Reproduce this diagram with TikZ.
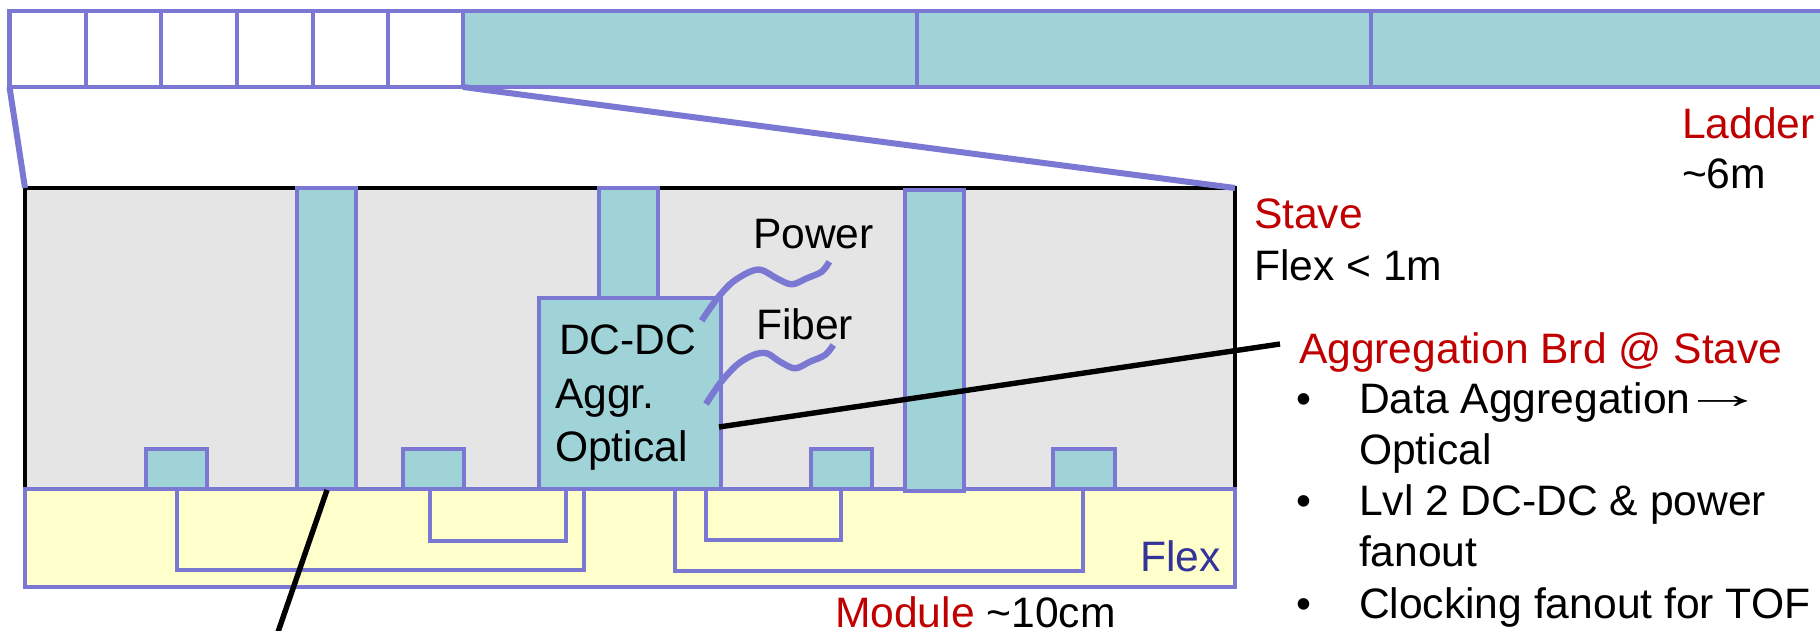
\documentclass[tikz,border=0pt]{standalone}
\usepackage{fontspec}
\setmainfont{Liberation Sans}
\definecolor{lav}{HTML}{7B78D4}
\definecolor{teal2}{HTML}{9FD3D8}
\definecolor{stavegray}{HTML}{E5E5E5}
\definecolor{flexy}{HTML}{FFFFCC}
\definecolor{redt}{HTML}{C00000}
\definecolor{flext}{HTML}{333399}
\tikzset{
  box/.style={draw=lav,line width=4.8pt,inner sep=0pt,outer sep=0pt,line join=miter},
  tealbox/.style={box,fill=teal2},
  whitebox/.style={box,fill=white},
  stavebox/.style={draw=black,line width=4.6pt,fill=stavegray,inner sep=0pt,outer sep=0pt},
  flexbox/.style={box,fill=flexy},
  trace/.style={draw=lav,line width=4.8pt,line join=miter},
  zoomline/.style={draw=lav,line width=6pt},
  squiggle/.style={draw=lav,line width=6.4pt,line join=round},
  leader/.style={draw=black,line width=5.4pt},
  lbl/.style={anchor=base west,inner sep=0pt,outer sep=0pt,font=\fontsize{42.6}{50}\selectfont},
  redl/.style={lbl,text=redt},
  blackl/.style={lbl,text=black},
}
\newcommand{\rbox}[6]{\node[#1,minimum width={(#5-#3)*1pt},minimum height={(#6-#4)*1pt}] (#2) at ({(#3+#5)/2},{(#4+#6)/2}) {};}
\begin{document}
\begin{tikzpicture}[x=1pt,y=-1pt]
\useasboundingbox (0,0) rectangle (1820,630);
\clip (0,0) rectangle (1820,630);
% ladder
\rbox{whitebox}{c1}{9.5}{11}{86}{87}
\rbox{whitebox}{c2}{86}{11}{161}{87}
\rbox{whitebox}{c3}{161}{11}{237}{87}
\rbox{whitebox}{c4}{237}{11}{313}{87}
\rbox{whitebox}{c5}{313}{11}{388}{87}
\rbox{whitebox}{c6}{388}{11}{463}{87}
\rbox{tealbox}{m1}{463}{11}{917}{87}
\rbox{tealbox}{m2}{917}{11}{1371}{87}
\rbox{tealbox}{m3}{1371}{11}{1830}{87}
% stave and flex
\rbox{stavebox}{stave}{25}{188}{1235}{489}
\rbox{flexbox}{flex}{25}{489}{1235}{587}
\draw[zoomline] (c1.south west) -- (stave.north west);
\draw[zoomline] (c6.south east) -- (stave.north east);
% modules
\rbox{tealbox}{col1}{297}{188}{356}{489}
\rbox{tealbox}{col2}{599}{188}{658}{298}
\rbox{tealbox}{col3}{905}{190}{964}{491}
\rbox{tealbox}{agg}{539}{298}{721}{489}
\rbox{tealbox}{s1}{146}{449}{207}{489}
\rbox{tealbox}{s2}{403}{449}{464}{489}
\rbox{tealbox}{s3}{811}{449}{872}{489}
\rbox{tealbox}{s4}{1053}{449}{1115}{489}
% traces
\draw[trace] (177,489) |- (584,570) -- (584,489);
\draw[trace] (430,489) |- (566,541) -- (566,489);
\draw[trace] (675,489) |- (1083,571) -- (1083,489);
\draw[trace] (706,489) |- (841,540) -- (841,489);
% squiggles
\draw[squiggle] plot[smooth,tension=0.55] coordinates {(701.7,320.7) (710,308.3) (720,295) (733,281.7) (750,271.7) (761.7,270) (776.7,278.3) (791.7,284.3) (806.7,278.3) (821.7,271.7) (829.3,261.7)};
\draw[squiggle] plot[smooth,tension=0.55] coordinates {(706,404) (720,383.3) (736.7,365) (753.3,355) (766.7,353.3) (780,361.7) (795,368.3) (810,361.7) (825,355) (833.3,345)};
% leaders
\coordinate (leadA) at (278,632);
\coordinate (leadBend) at (1280,344);
\draw[leader] (327,490) -- (leadA);
\draw[leader] (719,427) -- (leadBend);
% labels
\node[redl] (ladder) at (1682,138) {Ladder};
\node[blackl] (ladderlen) at (1682,188) {\textasciitilde 6m};
\node[redl] (stavet) at (1254,228) {Stave};
\node[blackl] (flexlen) at (1254,280) {Flex < 1m};
\node[redl] (aggt) at (1299,363) {Aggregation Brd @ Stave};
\node[blackl] (b1) at (1296,413) {•};
\node[blackl] (b2) at (1296,515) {•};
\node[blackl] (b3) at (1296,618) {•};
\node[blackl] (l1) at (1359,413) {Data Aggregation\hspace{-9pt}\raisebox{5pt}{\scalebox{1.95}[1]{→}}};
\node[blackl] (l2) at (1359,464) {Optical};
\node[blackl] (l3) at (1359,515) {Lvl 2 DC-DC \& power};
\node[blackl] (l4) at (1359,566) {fanout};
\node[blackl] (l5) at (1359,618) {Clocking fanout for TOF};
\node[blackl] (power) at (753,248) {Power};
\node[blackl] (fiber) at (756,339) {Fiber};
\node[blackl] (dc) at (559,354) {DC-DC};
\node[blackl] (aggr) at (555,408) {Aggr.};
\node[blackl] (opt) at (555,461) {Optical};
\node[lbl,text=flext] (flexl) at (1140,571) {Flex};
\node[redl] (mod) at (835,627) {Module};
\node[blackl,anchor=base west] (modl) at (mod.base east) {\ \textasciitilde 10cm};
\end{tikzpicture}
\end{document}
